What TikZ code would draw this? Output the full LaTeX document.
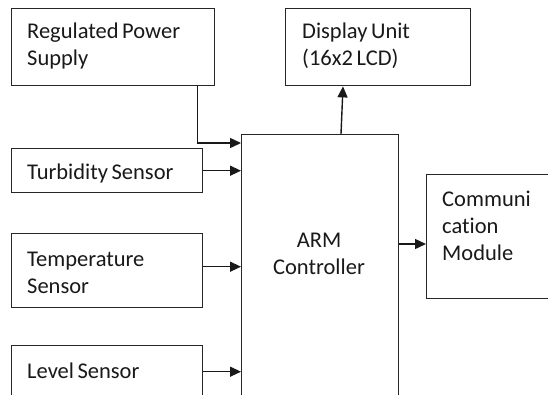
\documentclass[tikz,border=0pt]{standalone}
\usepackage{fontspec}
\setmainfont{Carlito}[Ligatures=NoCommon,WordSpace=0.7]
\usetikzlibrary{arrows.meta,calc}
\begin{document}
\begin{tikzpicture}[x=1pt,y=-1pt,
  box/.style={draw=black!85,line width=1.4pt,rectangle,anchor=north west,inner sep=0pt},
  lbl/.style={align=left,inner sep=0pt,anchor=west},
  arr/.style={draw=black!90,line width=1.4pt,-{Triangle[length=11pt,width=10pt]}},
  every node/.append style={font=\fontsize{22.5}{27}\selectfont,text=black!90}]
\useasboundingbox (0,0) rectangle (548,394);
\fill[white] (0,0) rectangle (548,394);
\clip (0,0) rectangle (548,394);
% boxes
\node[box,minimum width=203pt,minimum height=77pt] (rps) at (11,8) {};
\node[lbl] (rpst) at (27,45.5) {Regulated Power\\Supply};
\node[box,minimum width=191pt,minimum height=44pt] (turb) at (11,148) {};
\node[lbl] (turbt) at (27,173.5) {Turbidity Sensor};
\node[box,minimum width=191pt,minimum height=74pt] (temp) at (11,233) {};
\node[lbl] (tempt) at (27,273) {Temperature\\Sensor};
\node[box,minimum width=191pt,minimum height=52pt] (lev) at (11,345) {};
\node[lbl] (levt) at (27,370.5) {Level Sensor};
\node[box,minimum width=157pt,minimum height=300pt] (arm) at (241,134) {};
\node[align=center,inner sep=0pt] (armt) at (319,254) {ARM\\Controller};
\node[box,minimum width=185pt,minimum height=77pt] (disp) at (285,8) {};
\node[lbl] (dispt) at (302,45.5) {Display Unit\\(16x2 LCD)};
\node[box,minimum width=150pt,minimum height=124pt] (comm) at (426,174) {};
\node[lbl] (commt) at (442,225.5) {Communi\\cation\\Module};
% connectors
\draw[arr] ([xshift=-18pt]rps.south east) |- ([yshift=-9pt]arm.north west);
\draw[arr] (turb.east) -- (turb.east -| arm.west);
\draw[arr] ([yshift=4pt]temp.east) -- ([yshift=4pt]temp.east -| arm.west);
\draw[arr] (lev.east) -- (lev.east -| arm.west);
\draw[arr] ([xshift=100pt]arm.north west) -- ([xshift=58pt]disp.south west);
\coordinate (cin) at ([yshift=-70pt]comm.north west);
\draw[arr] (cin -| arm.east) -- (cin);
\end{tikzpicture}
\end{document}
